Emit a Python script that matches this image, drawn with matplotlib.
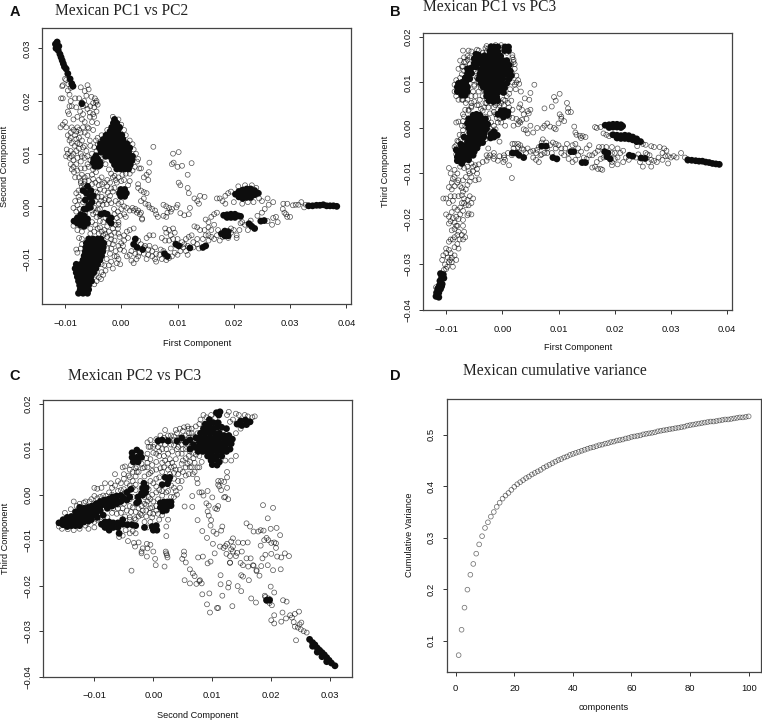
import numpy as np
import matplotlib
matplotlib.use("Agg")
import matplotlib.pyplot as plt

# values in units of 1e-4. *_open = separate rings, *_core = overplotted (solid) areas
a_open = [(-104,205),(-107,205),(-104,230),(-100,242),(-105,228),(-95,220),(-90,225),(-85,228),(-72,226),(-65,219),(-60,230),(-58,222),(-62,210),(-53,208),(-47,205),(-45,197),(-42,193),(-48,188),(-44,180),(-50,175),(-60,185),(-68,190),(-75,205),(-82,205),(-90,200),(-92,190),(-95,180),(-93,175),(-85,165),(-78,170),(-70,165),(-65,160),(-68,175),(-56,178),(-52,160),(-43,158),(-100,160),(-104,155),(-108,150),(-98,150),(-88,150),(-85,145),(-82,135),(-78,150),(-72,140),(-65,140),(-60,135),(-92,125),(-88,120),(-83,115),(-78,120),(-74,118),(-70,125),(-56,125),(-55,115),(-48,112),(-97,108),(-95,100),(-90,105),(-85,100),(-80,105),(-72,100),(-70,95),(-78,92),(-85,88),(-92,92),(-98,95),(-90,80),(-85,75),(-80,80),(-72,85),(-65,92),(-60,95),(-55,88),(-88,70),(-84,65),(-78,68),(-72,72),(-70,60),(-75,55),(-82,55),(-65,55),(-60,58),(-52,60),
(-98,240),(-94,232),(-92,212),(-70,197),(-66,200),(-50,196),(-44,200),(-56,170),(-60,150),(-50,145),(-75,130),(-80,128),
(-80,25),(-76,18),(-82,10),(-78,2),(-85,-3),(-80,-10),(-76,30),(-70,38),(-65,48),(-58,48),(-50,52),(-46,45),(-40,50),(-35,55),(-30,45),(-25,38),(-30,30),(-38,32),(-45,28),(-42,18),(-35,18),(-28,15),(-20,20),(-15,28),(-12,35),(-20,45),(-46,10),(-40,5),(-33,3),(-26,4),(-18,6),(-10,10),(-5,5),(-48,-3),(-42,-6),(-13,-5),(-6,-10),(-50,-15),(-44,-20),(-52,-30),(-46,-35),(-38,-28),(-32,-30),(-25,-38),(-38,-40),(-30,-45),(-22,-48),(-15,-42),(-10,-35),(-5,-30),(-6,-42),(-55,-42),(-48,-48),(-40,-52),(-32,-55),(-25,-58),(-18,-55),(-55,-52),(-78,-45),(-85,-37),(-83,-28),(-70,-48),(-75,-60),(-70,-62),(-70,-72),(-72,-80),(-78,-88),(-80,-82),(-22,-70),(-25,-80),(-20,-90),(-26,-100),(-30,-112),(-35,-125),(-40,-135),(-44,-142),(-36,-138),(-48,-148),(-45,-130),(-10,-85),(-8,-95),(-5,-75),(-18,-105),(-15,-118),(-8,-108),(-2,-110),(-35,-110),
(0,8),(5,0),(0,-5),(10,-3),(15,-8),(20,-3),(25,-5),(30,-8),(33,-15),(37,-23),(37,-25),(35,-12),(28,-12),(22,-8),(5,-15),(8,-20),(-5,-35),(10,-48),(15,-45),(22,-42),(-3,-58),(0,-70),(-2,-82),(5,-85),(10,-95),(15,-92),(18,-103),(22,-108),(27,-100),(30,-95),(-5,-100),(5,-65),(3,-75),
(50,83),(57,113),(49,65),(45,60),(40,55),(48,50),(32,72),(35,72),(30,42),(30,35),(35,30),(40,27),(45,25),(40,15),(35,10),(43,5),(48,3),(50,-2),(55,-5),(60,-8),(62,-15),(65,-20),(75,3),(80,0),(85,-3),(75,-18),(80,-20),(82,-12),(88,-10),(90,-5),(100,3),(98,-2),(105,-13),(112,-17),(120,-15),(122,-3),(130,15),(135,10),(138,5),(140,20),(148,18),(92,100),(102,103),(90,80),(93,83),(100,75),(108,77),(118,60),(125,82),(102,45),(105,40),(118,35),(120,25),
(50,-55),(57,-55),(45,-60),(78,-42),(85,-45),(92,-42),(80,-50),(88,-55),(95,-50),(72,-60),(78,-65),(85,-65),(92,-62),(100,-62),(108,-68),(115,-62),(120,-58),(125,-55),(130,-38),(135,-40),(140,-45),(148,-45),(155,-40),(150,-55),(160,-58),(145,-62),(135,-62),(128,-68),(112,-72),(115,-85),(118,-92),(105,-85),(95,-88),(88,-80),(70,-82),(62,-90),(55,-85),(48,-82),(40,-90),(45,-100),(60,-100),(62,-105),(72,-100),(80,-102),(85,-98),(100,-92),(30,-65),(35,-72),(42,-75),(50,-75),(60,-78),
(150,-25),(155,-30),(160,-45),(155,-55),(165,-62),(170,-55),(175,-65),(180,-58),(190,-60),(205,-55),(205,-60),(210,-45),(170,15),(175,15),(180,10),(185,20),(190,25),(195,28),(245,15),(250,10),(260,15),(270,8),(262,3),(255,-5),(250,-12),(242,-18),(230,-27),(220,-35),(215,-30),(270,-22),(275,-20),(278,-30),(268,-35),(260,-28),(288,5),(295,5),(287,-5),(290,-12),(293,-15),(295,-20),(300,-20),(305,2),(310,3),(315,3),(320,8),(325,-2),(328,3),(200,-45),(195,-42),(165,-35),(160,-20),(170,-12),(165,-15),(225,-45),(212,-32)]

a_extra = [(-74,12),(-68,8),(-62,15),(-55,12),(-48,18),(-42,26),(-36,10),(-30,12),(-24,26),(-18,34),(-72,44),(-66,34),(-58,28),(-68,-8),(-74,-5),(-64,-14),(-45,125),(-42,118),(-44,105),(-40,95),(-35,85),(-28,80),(-22,70),(-18,62),(-12,58),(-5,55),(2,60),(8,62),(15,62),(20,68),(24,75),(28,85),(30,90),(26,100),(22,108),(20,118),(15,125),(8,135),(5,145),(0,155),(-5,165),(-15,170),(-25,145),(-35,135),(-42,130),(-10,50),(0,48),(5,50),(15,48),(12,40),
(-88,190),(-80,188),(-73,180),(-63,192),(-55,190),(-48,170),(-58,148),(-68,150),(-75,145),(-90,140),(-95,135),(-80,142),(-68,112),(-62,105),(-52,100),(-58,75),(-65,72),(-60,80),(-50,70),(-45,65),(-90,130),(-88,95),(-75,110),(-65,115),
(-72,48),(-66,42),(-52,42),(-40,40),(-34,42),(-25,50),(-15,55),(-8,45),(-5,25),(-22,12),(-38,-5),(-45,-12),(-38,-18),(-52,-8),(-28,-22),(-12,-15),(-8,-22),(-2,-18),(-28,-52),(-35,-48),(-42,-42),(-12,-50),(-18,-62),(-12,-65),(-5,-52),(-15,-72),(-18,-80),(-12,-95),(-22,-112),(-28,-122),(-32,-130),
(12,-60),(5,-55),(18,-85),(25,-90),(32,-88),(40,-78),(48,-92),(55,-95),(68,-92),(75,-85),(90,-95),(105,-75),(110,-78),(118,-75),(128,-78),(135,-72),(138,-80),(155,-65),(172,-45),(195,-50),(185,5),(200,8),(215,5),(225,8),(235,8),(208,38),(220,40),(232,40),(240,35),(245,25)]

a_core = [(-117,308),(-116,300),(-114,312),(-112,296),(-111,304),(-109,289),(-107,283),(-105,277),(-103,271),(-101,265),(-98,261),(-95,252),(-91,242),(-88,233),(-86,228),(-70,195),
(-12,165),(-14,158),(-8,158),(-17,150),(-10,150),(-3,150),(-20,142),(-13,142),(-6,142),(-27,135),(-20,135),(-13,135),(-6,135),(1,135),(-32,127),(-25,127),(-18,127),(-11,127),(-4,127),(3,127),(-37,119),(-30,119),(-23,119),(-16,119),(-9,119),(-2,119),(5,119),(10,119),(-39,111),(-32,111),(-25,111),(-18,111),(-11,111),(-4,111),(3,111),(10,111),(15,111),(-36,103),(-29,103),(-22,103),(-15,103),(-8,103),(-1,103),(6,103),(13,103),(-28,95),(-21,95),(-14,95),(-7,95),(0,95),(7,95),(14,95),(20,95),(-16,87),(-9,87),(-2,87),(5,87),(12,87),(19,87),(-12,79),(-5,79),(2,79),(9,79),(16,79),(-8,71),(-1,71),(6,71),(13,71),
(-45,96),(-49,90),(-42,90),(-50,83),(-44,83),(-38,84),(-47,76),(-41,76),(-38,78),
(-1,32),(6,32),(-3,25),(3,25),(9,25),(-1,19),(6,19),
(-60,38),(-54,30),(-62,25),(-56,18),(-52,8),(-58,2),(-62,-5),(-64,12),(-55,-2),(-68,30),(-50,20),(-66,-5),
(-84,-28),(-78,-22),(-78,-32),(-72,-16),(-72,-26),(-72,-36),(-66,-18),(-66,-28),(-66,-38),(-60,-24),(-60,-32),(-30,-13),(-36,-15),(-25,-15),(-18,-22),(-18,-32),(-22,-27),
(-58,-62),(-50,-62),(-42,-62),(-36,-62),(-62,-70),(-54,-70),(-46,-70),(-38,-70),(-31,-70),(-63,-78),(-55,-78),(-47,-78),(-39,-78),(-32,-78),(-64,-86),(-56,-86),(-48,-86),(-40,-86),(-33,-86),(-66,-94),(-58,-94),(-50,-94),(-42,-94),(-35,-94),(-68,-102),(-60,-102),(-52,-102),(-44,-102),(-38,-102),(-80,-110),(-72,-110),(-64,-110),(-56,-110),(-48,-110),(-42,-110),(-82,-118),(-74,-118),(-66,-118),(-58,-118),(-50,-118),(-45,-118),(-80,-126),(-72,-126),(-64,-126),(-56,-126),(-49,-126),(-78,-134),(-70,-134),(-62,-134),(-54,-134),(-76,-142),(-68,-142),(-60,-142),(-53,-142),(-74,-150),(-66,-150),(-58,-150),(-73,-158),(-65,-158),(-58,-158),(-76,-165),(-68,-165),(-60,-165),
(203,23),(209,28),(209,18),(216,31),(216,23),(216,15),(223,33),(223,25),(223,17),(230,33),(230,25),(230,17),(237,30),(237,22),(243,25),
(182,-17),(188,-16),(188,-21),(195,-15),(195,-21),(202,-15),(202,-21),(208,-18),(212,-19),
(333,1),(340,1),(347,2),(353,2),(359,3),(365,1),(371,1),(377,1),(383,0),
(178,-52),(184,-47),(184,-56),(190,-48),(190,-56),(227,-33),(232,-38),(237,-42),(248,-28),(254,-27),
(25,-62),(22,-72),(28,-78),(38,-82),(77,-90),(82,-95),(97,-72),(102,-75),(122,-79),(145,-78),(150,-75)]

b_open = [(-118,-350),(-100,-265),(-105,-280),(-107,-290),(-102,-300),(-100,-310),(-95,-268),(-92,-275),(-90,-285),(-95,-295),(-85,-262),(-80,-255),(-85,-280),(-82,-290),(-88,-305),(-95,-250),(-92,-245),(-85,-240),(-80,-235),(-78,-265),(-90,-225),(-85,-222),(-82,-215),(-78,-228),(-70,-215),(-66,-240),(-70,-245),(-72,-235),(-68,-228),(-100,-190),(-95,-195),(-90,-185),(-88,-198),(-85,-208),(-82,-195),(-78,-200),(-70,-202),(-62,-192),(-60,-188),(-55,-190),(-95,-165),(-100,-155),(-105,-155),(-92,-150),(-88,-160),(-85,-175),(-80,-180),(-75,-175),(-70,-182),(-72,-165),(-65,-170),(-68,-155),(-62,-158),(-58,-150),(-52,-155),(-55,-165),(-90,-135),(-85,-128),(-80,-120),(-88,-112),(-92,-100),(-95,-88),(-85,-92),(-80,-100),(-78,-115),(-75,-128),(-70,-140),(-72,-132),(-65,-135),(-62,-125),(-58,-118),(-55,-108),(-48,-115),(-42,-113),(-45,-100),(-52,-95),(-60,-95),(-68,-88),(-75,-85),(-52,-85),(-45,-90),(-42,-80),(-35,-75),(-28,-72),(-22,-60),(-15,-62),(-28,-60),
(-82,-58),(-85,-42),(-80,-28),(-82,12),(-78,14),(-72,5),(-70,-15),(-66,40),(-70,30),(-60,38),(-55,48),(-65,55),(-72,62),(-50,58),(-42,50),(-38,42),(-32,45),(-28,55),(-20,55),(-15,45),(-22,32),(-10,22),(-12,30),(-8,12),(-2,12),(5,5),(-12,-3),(-25,-5),(-30,-25),(-5,-30),(-25,-45),
(-42,170),(-35,165),(-35,150),(-30,140),(-38,125),(-45,110),(-40,95),(-50,95),(-42,80),(-48,70),(-55,55),(-60,170),(-68,145),(-72,135),(-62,150),(18,155),(20,145),(22,130),(15,125),(25,115),(18,100),(12,75),(16,60),(-2,55),(5,60),(-15,60),(18,160),(28,105),(30,97),(33,80),(24,85),
(8,165),(20,150),(-25,175),(-20,180),(-12,182),(-2,182),(2,178),(-28,168),
(12,25),(18,22),(25,20),(30,15),(28,8),(20,5),(32,12),(35,18),(38,-3),(45,-12),(55,-10),(62,0),(42,-5),(50,5),(32,52),(30,45),(35,40),(38,30),(45,37),(50,40),(47,32),(43,20),(48,62),(57,95),(50,77),(40,65),(75,43),(88,47),(92,68),(95,60),(102,75),(115,55),(117,43),(117,35),(122,35),(105,20),(102,30),(105,25),(110,15),(100,10),(95,-3),(75,5),(80,10),(85,3),(72,0),(92,0),(128,3),(130,-10),(132,-15),(138,-17),(140,-22),(143,-18),(148,-20),
(10,-55),(-8,-72),(-15,-68),(-25,-65),(5,-70),(17,-60),(3,-60),(-15,-55),(-5,-62),(2,-75),(12,-82),(17,-110),(3,-65),
(18,-35),(22,-35),(28,-35),(32,-38),(20,-45),(28,-42),(38,-48),(42,-55),(50,-52),(55,-50),(62,-48),(60,-70),(65,-75),(55,-65),(70,-32),(72,-25),(78,-32),(85,-38),(90,-32),(95,-35),(100,-38),(68,-60),(70,-58),(75,-55),(80,-55),(88,-55),(105,-55),(110,-60),(118,-68),(125,-75),(130,-70),(115,-35),(125,-38),(130,-35),(135,-45),(140,-52),(150,-45),(155,-38),(155,-60),(160,-60),(160,-87),(165,-85),(170,-90),(175,-90),(178,-92),(168,-75),(175,-68),(170,-50),(172,-42),(178,-42),(185,-42),(195,-42),(200,-55),(200,-68),(195,-75),(195,-82),(205,-80),(210,-55),(215,-50),(220,-65),(215,-75),(205,-45),
(165,2),(168,0),(175,2),(180,-12),(185,-15),(190,-18),(195,-15),(240,-40),(250,-35),(255,-37),(265,-40),(270,-42),(245,-75),(250,-85),(265,-85),(262,-60),(258,-58),(265,-70),(270,-72),(275,-75),(280,-42),(285,-55),(288,-45),(292,-50),(285,-70),(295,-78),(290,-62),(300,-65),(305,-62),(310,-65),(318,-55),(325,-65),(330,-72)]

b_extra = [(-82,105),(-85,95),(-85,80),(-82,70),(-78,62),(-70,62),(-62,62),(-55,70),(-52,80),(-50,92),(-52,105),(-45,120),(-48,125),(-58,140),(-68,125),(-72,118),(-75,110),(-65,145),(-55,168),(-45,172),(-38,135),(-38,115),(-42,100),(-38,88),(-32,82),(-35,70),(-28,65),(-30,55),(-40,62),(-45,50),(-55,45),(-60,40),(-68,25),(-70,15),(-66,5),(-70,-5),(-76,-15),(-78,-30),(-82,-38),(-74,-25),(-25,20),(-20,12),(-15,5),(-22,-2),(-28,5),(-5,20),(-5,50),(3,50),(10,55),(12,45),(18,40),(-15,35),(-25,45),(-12,50),(-20,60),(-35,38),(-30,25),
(-88,-245),(-76,-245),(-80,-215),(-92,-205),(-95,-210),(-75,-190),(-68,-165),(-60,-170),(-72,-148),(-78,-150),(-85,-150),(-95,-130),(-90,-120),(-85,-108),(-70,-115),(-65,-108),(-58,-100),(-62,-85),(-55,-78),(-48,-82),(-100,-275),(-97,-285),(-98,-305),(-104,-312),(-93,-290),(-90,-295),
(-70,170),(-78,130),(-62,158),(-68,155),(-75,148),(-70,135),(-60,118),(-48,145),(-58,155),(-30,175),(-32,160),(-30,150),(-28,180),(-18,60),(-8,55),(2,62),(8,70),(14,85),(22,95),(25,100),(18,118),(22,140),(16,140),
(28,-55),(35,-45),(45,-45),(60,-55),(65,-42),(80,-45),(95,-45),(105,-45),(112,-45),(118,-55),(135,-60),(145,-65),(150,-68),(165,-55),(180,-65),(195,-55),(205,-65),(225,-70),(238,-65),(242,-58),(255,-55),(260,-75),(278,-65),(295,-62)]

b_core = [(5,178),(11,178),(4,170),(11,170),(-20,178),(-14,178),(-8,178),(-22,168),(-15,168),(-8,168),(-24,158),(-17,158),(-10,158),(-3,158),(-27,148),(-20,148),(-13,148),(-6,148),(1,148),(8,148),(-30,138),(-23,138),(-16,138),(-9,138),(-2,138),(5,138),(12,138),(-33,128),(-26,128),(-19,128),(-12,128),(-5,128),(2,128),(9,128),(-35,118),(-28,118),(-21,118),(-14,118),(-7,118),(0,118),(7,118),(-34,108),(-27,108),(-20,108),(-13,108),(-6,108),(1,108),(-30,98),(-23,98),(-16,98),(-9,98),(-2,98),(-26,88),(-19,88),(-12,88),(-5,88),(-22,78),(-15,78),(-8,78),(-18,68),(-10,68),
(-32,158),(-32,148),(-35,138),(-38,128),(-40,118),(-42,108),(-38,98),(-34,90),(-28,80),(-28,70),(-24,60),(-16,58),(-8,60),(14,125),(16,115),(12,108),(8,98),(4,88),(2,78),
(-47,162),(-42,160),(-50,152),(-44,152),(-38,152),(-50,142),(-44,142),(-40,142),(-47,134),
(-62,130),(-55,132),(-62,120),(-55,120),(-66,110),(-58,108),
(-78,98),(-72,100),(-65,100),(-80,90),(-74,90),(-68,90),(-62,90),(-80,80),(-74,80),(-68,80),(-62,80),(-72,72),(-66,72),
(-2,38),(4,38),(10,35),(-3,30),(3,30),(9,28),(2,24),
(-52,28),(-46,30),(-40,28),(-60,20),(-54,20),(-48,20),(-42,20),(-36,20),(-62,10),(-56,10),(-50,10),(-44,10),(-38,10),(-32,12),(-60,0),(-54,0),(-48,0),(-42,0),(-36,2),
(-35,-8),(-42,-10),(-50,-10),(-56,-12),(-38,-18),(-45,-18),(-52,-20),(-60,-22),(-40,-26),(-47,-28),(-54,-28),(-62,-30),(-32,-12),(-33,-20),(-35,-32),(-42,-35),(-49,-36),(-56,-36),(-64,-38),(-72,-38),(-45,-44),(-52,-44),(-59,-44),(-66,-46),(-73,-48),(-80,-50),(-50,-52),(-57,-52),(-64,-54),(-71,-56),(-78,-58),(-52,-60),(-59,-62),(-66,-62),(-73,-64),(-80,-64),(-60,-70),(-68,-70),(-75,-72),
(-28,-2),(-26,8),(-30,20),(-58,-10),(-68,-20),(-74,-36),(-82,-48),(-80,-72),(-72,-78),
(-20,-14),(-14,-12),(-9,-16),(-15,-20),(-21,-22),(-110,-320),(-108,-328),(-111,-336),(-105,-322),(-104,-330),(-107,-343),(-112,-346),(-115,-353),(-110,-354),(-117,-362),(-113,-362),(-118,-370),(-113,-372),(-108,-348),
(183,6),(190,7),(190,1),(197,8),(197,2),(204,8),(204,2),(211,7),(211,1),(214,4),(197,-15),(204,-16),(204,-22),(211,-17),(211,-23),(218,-16),(218,-23),(225,-17),(225,-24),(232,-20),(232,-26),(239,-24),(239,-30),(246,-30),(-8,30),(-15,-8),
(330,-70),(337,-71),(344,-72),(350,-73),(356,-73),(362,-75),(368,-76),(374,-78),(380,-79),(386,-80),
(18,-55),(25,-55),(30,-60),(38,-65),(70,-40),(78,-40),(90,-65),(97,-68),(122,-52),(127,-52),(142,-76),(148,-76),(182,-52),(188,-55),(186,-63),(192,-68),(226,-60),(232,-62),(247,-66),(254,-67)]

c_open = [(66,-3),(100,-6),(53,-26),(66,-27),(75,-56),(90,-19),(94,-24),(92,-37),(94,-46),(98,-56),(97,-68),(83,-80),(91,-95),(102,-81),(107,-86),(117,-70),(115,-79),(101,-108),(104,-129),(113,-114),(119,-117),(124,-130),(132,-103),(135,-96),(135,-114),(144,-105),(152,-106),(160,-105),(170,-81),(158,-63),(164,-70),(178,-81),(182,-78),(187,-79),(186,-23),(203,-29),(194,-52),(199,-75),(209,-73),(215,-89),(200,-106),(208,-107),(208,-117),(210,-136),(217,-138),(223,-129),(230,-135),(216,-164),(203,-166),(194,-155),(183,-157),(175,-166),(169,-155),(161,-158),(152,-180),(162,-188),(149,-177),(143,-201),(149,-212),(166,-228),(174,-237),(199,-202),(205,-215),(189,-222),(201,-243),(220,-232),(226,-235),(219,-259),(205,-265),(200,-276),(205,-283),(217,-279),(247,-257),(251,-281),(242,-320),
(130,-149),(114,-177),(114,-197),(117,-222),(128,-194),(127,-204),(134,-245),(108,-249),(110,-249),(96,-259),(91,-241),(95,-217),(83,-219),(70,-179),(67,-173),(62,-164),(76,-138),(84,-136),(92,-151),(97,-147),(53,-188),(62,-195),(73,-196),(79,-188),(82,-195),(78,-190),
(52,-125),(52,-133),(49,-141),(55,-149),(22,-129),(19,-158),(4,-155),(3,-141),(0,-125),(-11,-136),(-11,-108),(-18,-118),(-37,-167),(-43,-102),(-33,-106),(-31,-114),(-20,-129),(22,-91),(21,-125),(23,-133),(24,-138),
(140,-135),(148,-150),(152,-155),(158,-140),(165,-140),(170,-156),(175,-168),(180,-178),(185,-140),(190,-132),(195,-100),(182,-112),(188,-100),(192,-95),(205,-105),(130,-135),(135,-125),(142,-128),(150,-125),(130,-150),(132,-120),(122,-113),(125,-108),(200,-130),(198,-230),(190,-225),(192,-233),(197,-238),(195,-228),
(67,45),(74,35),(75,25),(78,5),(82,5),(85,-2),(92,8),(110,30),(115,30),(120,28),(110,22),(112,18),(125,38),(125,15),(127,-10),(122,-5),(110,-25),(105,-30),(108,-32),(120,-6),
(140,85),(132,75),(122,75),(125,50),(115,10),
(235,-270),(238,-280),(240,-290),(245,-292),(250,-296),(255,-300),(260,-303),(240,-262),(232,-265),(248,-285),(225,-272),
(-20,-125),(-10,-118),(-5,-110),(-25,-105),(-40,-85),(-52,-90),(-58,-93),(-30,-85),(-35,-80),(-47,-78),(-10,-72),(-15,-60),(-20,-45),(-30,-55),(-40,-50),(-5,-60),(-2,-50),(10,-55),(15,-45),(25,-55),(22,-70),(-18,-35),(-25,-30),(-40,-25),(-50,-20),(-60,-30),(-5,-30),(5,-35),(-12,-22),
(-108,-50),(-95,-55),(-100,-72),(-85,-68),(-110,-75),(-160,-70),(-155,-75),(-145,-76),(-135,-78),(-125,-75),(-112,-62),
(-135,-15),(-125,-20),(-115,-15),(-105,-10),(-100,-3),(-90,-5),(-80,-3),(-100,15),(-95,13),(-88,15),(-82,25),(-72,25),(-70,15),(-75,5),(-65,20),(-55,10),(-60,30),(-65,45),(-50,45),(-40,38),(-45,25),(-35,30),(-30,40),(-22,30),(-20,15),(-40,55),(-52,60),(-48,62),(-38,65),(-30,58),(-18,58),(-10,60),(-2,52),(5,35),(10,38),(15,50),(25,55),(35,35),(42,30),(48,30),(45,15),(30,20),(38,8),(25,8),(15,-2),(30,-5),(-5,-10),(-10,-15),(-25,-10),(-35,-5),(-48,-5),(-10,70),(-5,78),(5,72),(15,70),(25,68),(35,62),(45,55),(60,45),(55,60),(65,60),(70,70),
(-10,90),(-5,105),(0,105),(5,122),(12,130),(20,142),(8,120),(22,120),(30,110),(35,120),(42,115),(40,135),(50,140),(55,130),(60,145),(65,135),(72,150),(30,130),(48,110),(55,100),(62,95),(42,90),(38,78),(50,75),(60,85),(68,80),(80,165),(90,170),(98,175),(105,168),(125,175),(128,182),(140,178),(145,175),(155,175),(160,172),(168,170),(172,172),(135,165),(148,145),(140,135),(130,160)]

c_extra = [(-55,25),(-50,35),(-42,42),(-35,50),(-28,50),(-15,40),(-8,45),(-5,30),(0,25),(5,18),(10,10),(5,5),(-2,0),(-8,-5),(-15,-5),(-30,10),(-35,15),(-42,8),(-50,0),(-55,-8),(-40,-10),(-30,-20),(-20,-25),(-12,-35),(0,-15),(5,-25),(35,-5),(40,0),(-2,65),(5,55),(12,58),(18,60),(28,45),(35,48),(42,45),(50,50),(55,42),(62,60),(70,50),(78,60),(82,72),(62,72),(55,80),(48,90),(40,100),(32,95),(25,90),(18,85),(10,85),(5,90),(0,92),(-8,105),(-12,80),(15,100),(22,100),(28,118),(12,112),(18,125),(45,125),(52,118),(58,112),(65,108),(60,125),(68,118),(75,135),(65,145),(58,150),(50,125),(-10,115),(-5,120),(2,110),(8,105),(25,130),(35,128),(45,145),(38,142),(78,155),(85,175),
(-150,-40),(-140,-32),(-130,-25),(-118,-18),(-108,-15),(-95,-8),(-85,-2),(-70,0),(-60,8),(-50,12),(-40,20),(-30,22),(-12,22),(-8,12),(-25,50),(-20,68),(-15,60),(-45,-35),(-38,-38),(-30,-38),(-22,-42),(-12,-48),(-6,-40),(0,-42),(8,-42),(-70,-40),(-62,-42),(-55,-40),(-48,-48),(-40,-55),(-32,-52),(-78,-50),(-90,-50),(-100,-60),(-115,-68),(-125,-68),
(-68,-30),(-60,-22),(-52,-30),(-35,-28),(-25,-48),(-15,-20),(-2,-28),(8,-10),(15,8),(22,5),(35,15),(30,60),(38,55),(48,68),(72,88),(78,85),(75,60),(58,68),(68,92),(50,100),(20,75),(28,78),(35,108),(42,105),(20,110),(10,95),(32,70),(-5,48),(-28,62),(60,135),(52,148),(68,128)]

c_core = [(-160,-62),(-153,-55),(-153,-66),(-146,-50),(-146,-60),(-146,-70),(-139,-48),(-139,-58),(-139,-68),(-132,-38),(-132,-48),(-132,-58),(-132,-68),(-125,-28),(-125,-38),(-125,-48),(-125,-58),(-118,-30),(-118,-40),(-118,-50),(-111,-28),(-111,-38),(-111,-48),(-104,-25),(-104,-35),(-104,-45),(-97,-20),(-97,-30),(-97,-40),(-90,-15),(-90,-25),(-90,-35),(-83,-12),(-83,-22),(-76,-10),(-76,-20),(-69,-5),(-69,-15),(-62,-3),(-62,-12),
(-55,-2),(-50,-8),(-45,-12),(-40,-5),(-55,-15),(-62,-20),(-70,-25),(-78,-30),(-85,-45),(-95,-50),(-105,-55),(-118,-60),(-125,-68),(-110,-58),(-45,5),(-38,12),(55,115),(62,120),(68,110),(62,100),(40,118),(48,125),(25,118),(15,120),(8,118),
(-88,-65),(-82,-60),(-82,-72),(-75,-60),(-75,-70),(-75,-78),(-68,-62),(-68,-72),(-60,-62),(-60,-72),(-52,-65),(-52,-55),(-44,-66),(-36,-66),(-30,-68),(-58,-85),
(-2,-70),(5,-68),(0,-78),(6,-78),(-25,-15),(-28,-18),
(12,-18),(18,-16),(24,-16),(30,-16),(12,-28),(18,-28),(24,-26),(30,-24),(16,-36),(22,-34),
(-36,92),(-28,98),(-22,92),(-36,82),(-28,82),(-20,82),(-34,72),(-26,72),(-18,-1),
(-16,25),(-18,14),(-12,15),(-20,3),(-13,5),(15,22),(20,38),(26,32),(24,24),(28,38),
(95,165),(88,155),(95,155),(102,158),(110,158),(85,145),(92,145),(100,145),(108,148),(116,148),(124,145),(80,135),(88,135),(96,135),(104,135),(112,135),(120,130),(128,130),(72,125),(80,125),(88,125),(96,125),(104,125),(112,125),(120,122),(128,122),(134,122),(78,115),(86,115),(94,115),(102,115),(110,115),(118,113),(126,113),(132,112),(70,105),(78,105),(84,105),(90,105),(98,105),(106,105),(114,105),(122,103),(130,100),(76,95),(84,95),(92,95),(100,95),(108,95),(116,95),(124,95),(98,75),(106,78),(112,72),(100,66),(108,65),(92,85),(100,85),(108,85),(116,85),
(142,155),(148,162),(150,152),(156,164),(158,154),(164,160),(107,180),(113,182),(111,175),
(265,-318),(270,-325),(274,-330),(270,-333),(278,-337),(282,-342),(278,-346),(286,-347),(290,-352),(286,-356),(294,-358),(298,-364),(294,-367),(302,-370),(308,-376),(192,-232),(197,-232),(-26,-5),(-15,-72)]

d_components = list(range(1, 101))
d_variance = [0.0716,0.121,0.164,0.199,0.228,0.249,0.269,0.287,0.303,0.319,0.330,0.341,0.350,0.360,0.368,0.376,0.382,0.387,0.393,0.399,
0.404,0.408,0.412,0.416,0.419,0.423,0.426,0.429,0.432,0.436,0.439,0.442,0.445,0.448,0.451,0.453,0.456,0.458,0.461,0.463,
0.465,0.467,0.469,0.471,0.473,0.475,0.476,0.478,0.480,0.481,0.483,0.484,0.486,0.487,0.489,0.490,0.491,0.493,0.494,0.496,
0.497,0.498,0.499,0.501,0.502,0.503,0.504,0.505,0.507,0.508,0.509,0.510,0.511,0.512,0.513,0.514,0.515,0.516,0.518,0.519,
0.520,0.521,0.522,0.523,0.524,0.525,0.526,0.526,0.527,0.528,0.529,0.530,0.530,0.531,0.532,0.533,0.534,0.534,0.535,0.536]

pc_ticks_x = [-0.01, 0.00, 0.01, 0.02, 0.03, 0.04]
pc2_ticks = [-0.01, 0.00, 0.01, 0.02, 0.03]
pc3_ticks = [-0.04, -0.03, -0.02, -0.01, 0.00, 0.01, 0.02]

W, H = 762, 721
plt.rcParams['font.family'] = ['Liberation Sans', 'DejaVu Sans']
fig = plt.figure(figsize=(W / 100, H / 100), dpi=100)


def panel(left, right, top, bottom, xlim, ylim, xticks, yticks, fmt, pad_x=7.5, pad_y=4.5):
    ax = fig.add_axes([left / W, 1 - bottom / H, (right - left) / W, (bottom - top) / H])
    ax.set_xlim(*xlim)
    ax.set_ylim(*ylim)
    ax.set_xticks(xticks)
    ax.set_yticks(yticks)
    ax.set_xticklabels([fmt % t if t >= 0 else '\u2212' + fmt % -t for t in xticks])
    ax.set_yticklabels([fmt % t if t >= 0 else '\u2212' + fmt % -t for t in yticks], rotation=90, va='center')
    ax.tick_params(axis='x', length=3, width=0.7, labelsize=6.8, pad=pad_x, color='#333333', labelcolor='#111111')
    ax.tick_params(axis='y', length=3, width=0.7, labelsize=6.8, pad=pad_y, color='#333333', labelcolor='#111111')
    for s in ax.spines.values():
        s.set_linewidth(0.9)
        s.set_color('#444444')
    return ax


def rings(ax, pts_open, pts_extra, pts_core):
    o = np.array(pts_open + pts_extra) * 1e-4
    c = np.array(pts_core) * 1e-4
    ax.scatter(o[:, 0], o[:, 1], s=12.5, facecolors='none', edgecolors=(0, 0, 0, 0.68), linewidths=0.5)
    ax.scatter(c[:, 0], c[:, 1], s=24, facecolors='#0d0d0d', edgecolors='none')


def label(x, y, s, **kw):
    fig.text(x / W, 1 - y / H, s, ha=kw.pop('ha', 'center'), va='center', **kw)


ax_a = panel(42, 351, 28, 304, (-0.01409, 0.04083), (-0.01854, 0.03386), pc_ticks_x, pc2_ticks, '%.2f')
rings(ax_a, a_open, a_extra, a_core)
ax_b = panel(423.3, 732.3, 33.3, 310, (-0.01406, 0.04092), (-0.04, 0.0208), pc_ticks_x, pc3_ticks, '%.2f')
rings(ax_b, b_open, b_extra, b_core)
ax_c = panel(43.3, 352.3, 400, 676.7, (-0.01866, 0.03374), (-0.04, 0.0208), pc2_ticks, pc3_ticks, '%.2f')
rings(ax_c, c_open, c_extra, c_core)

ax_d = panel(447, 760.7, 399, 671.7, (-2.97, 104.1), (0.0394, 0.5698), [0, 20, 40, 60, 80, 100], [0.1, 0.2, 0.3, 0.4, 0.5], '%g', pad_x=5.5, pad_y=5.5)
ax_d.scatter(d_components, d_variance, s=11.5, facecolors='none', edgecolors=(0, 0, 0, 0.55), linewidths=0.55)

serif = ['Liberation Serif', 'DejaVu Serif']
label(55, 11, 'Mexican PC1 vs PC2', ha='left', family=serif, fontsize=11.2, color='#222222')
label(423, 7, 'Mexican PC1 vs PC3', ha='left', family=serif, fontsize=11.2, color='#222222')
label(68, 376, 'Mexican PC2 vs PC3', ha='left', family=serif, fontsize=11.2, color='#222222')
label(463, 371, 'Mexican cumulative variance', ha='left', family=serif, fontsize=11.2, color='#222222')

for x, y, s in [(15, 12, 'A'), (395, 12, 'B'), (15, 376, 'C'), (395, 376, 'D')]:
    label(x, y, s, fontsize=10.5, fontweight='bold', color='#111111')

label(197, 343, 'First Component', fontsize=6.6, color='#111111')
label(5, 166, 'Second Component', fontsize=6.6, rotation=90, color='#111111')
label(578, 348, 'First Component', fontsize=6.6, color='#111111')
label(386, 171, 'Third Component', fontsize=6.6, rotation=90, color='#111111')
label(198, 715, 'Second Component', fontsize=6.6, color='#111111')
label(6, 538, 'Third Component', fontsize=6.6, rotation=90, color='#111111')
label(604, 708, 'components', fontsize=6.6, color='#111111')
label(409, 535, 'Cumulative Variance', fontsize=6.6, rotation=90, color='#111111')

fig.savefig('out.png', dpi=100)
